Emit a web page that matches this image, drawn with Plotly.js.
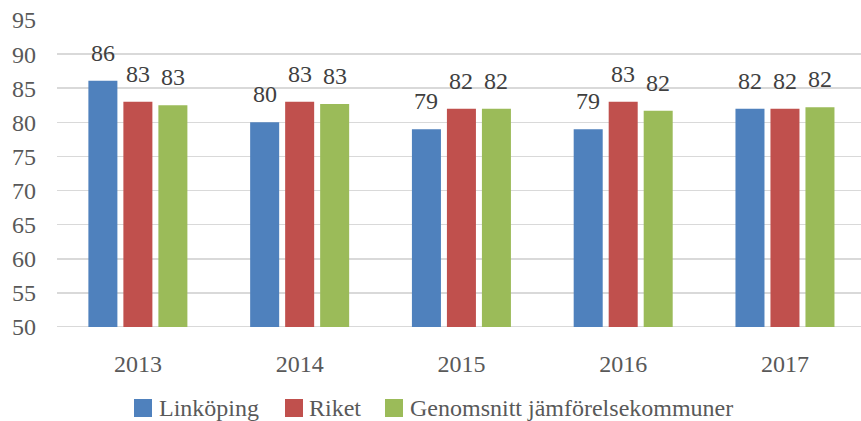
<!DOCTYPE html>
<html>
<head>
<meta charset="utf-8">
<script src="https://cdn.plot.ly/plotly-3.0.1.min.js"></script>
<style>html,body{margin:0;padding:0;background:#fff;}#chart{width:861px;height:421px;}</style>
</head>
<body>
<div id="chart"></div>
<script>
const years = ["2013", "2014", "2015", "2016", "2017"];
const seriesNames = ["Linköping", "Riket", "Genomsnitt jämförelsekommuner"];
const linkoping = [86.1, 80.0, 79.0, 79.0, 82.0];
const riket = [83.0, 83.0, 82.0, 83.0, 82.0];
const jamforelse = [82.5, 82.7, 82.0, 81.7, 82.2];
const yTicks = [50, 55, 60, 65, 70, 75, 80, 85, 90, 95];
const colors = ["#4F81BD", "#C0504D", "#9BBB59"];

const allSeries = [linkoping, riket, jamforelse];
const FONT = "Liberation Serif";
const FS = 24;

const W = 861, H = 421, ML = 57, MR = 0, MT = 20, MB = 94;
const PW = W - ML - MR, PH = H - MT - MB;
const px2x = p => (p - ML) / PW;
const px2y = p => (H - MB - p) / PH;

const traces = allSeries.map((vals, i) => ({
  type: "bar",
  name: seriesNames[i],
  x: years,
  y: vals,
  marker: {color: colors[i]},
  hoverinfo: "skip",
  showlegend: false
}));

const annotations = [];
allSeries.forEach((vals, i) => {
  vals.forEach((v, j) => {
    annotations.push({
      x: j, y: v, xref: "x", yref: "y",
      text: String(Math.round(v)),
      showarrow: false,
      yanchor: "bottom",
      xshift: (i - 1) * 35,
      yshift: 13,
      font: {family: FONT, size: FS, color: "#404040"}
    });
  });
});

// custom legend (layout positions in pixels)
const legendSquareX = [134, 285, 385];
const legendTextX = [158, 308, 409];
const shapes = [{
  type: "line", xref: "paper", yref: "y",
  x0: 0, x1: 1, y0: 50, y1: 50,
  line: {color: "#D9D9D9", width: 2},
  layer: "below"
}];
seriesNames.forEach((name, i) => {
  shapes.push({
    type: "rect", xref: "paper", yref: "paper",
    x0: px2x(legendSquareX[i]), x1: px2x(legendSquareX[i] + 18),
    y0: px2y(417), y1: px2y(399),
    fillcolor: colors[i], line: {width: 0}
  });
  annotations.push({
    xref: "paper", yref: "paper",
    x: px2x(legendTextX[i]), y: px2y(408),
    xanchor: "left", yanchor: "middle",
    text: name, showarrow: false, borderpad: 0,
    font: {family: FONT, size: FS, color: "#595959"}
  });
});

const layout = {
  width: W, height: H,
  margin: {l: ML, r: MR, t: MT, b: MB},
  paper_bgcolor: "#fff", plot_bgcolor: "#fff",
  barmode: "group",
  bargap: 0.351,
  bargroupgap: 0.171,
  showlegend: false,
  xaxis: {
    type: "category",
    range: [-0.5, 4.47],
    showgrid: false,
    showline: false,
    zeroline: false,
    ticks: "",
    ticklabelstandoff: 20,
    tickfont: {family: FONT, size: FS, color: "#595959"},
    fixedrange: true
  },
  yaxis: {
    range: [50, 95],
    tickvals: yTicks,
    ticktext: yTicks.map(String),
    showgrid: true,
    gridcolor: "#D9D9D9",
    gridwidth: 1.5,
    zeroline: false,
    showline: false,
    ticks: "",
    ticklabelstandoff: 20,
    tickfont: {family: FONT, size: FS, color: "#595959"},
    fixedrange: true
  },
  annotations: annotations,
  shapes: shapes
};

Plotly.newPlot("chart", traces, layout, {staticPlot: true, displayModeBar: false});
</script>
</body>
</html>
